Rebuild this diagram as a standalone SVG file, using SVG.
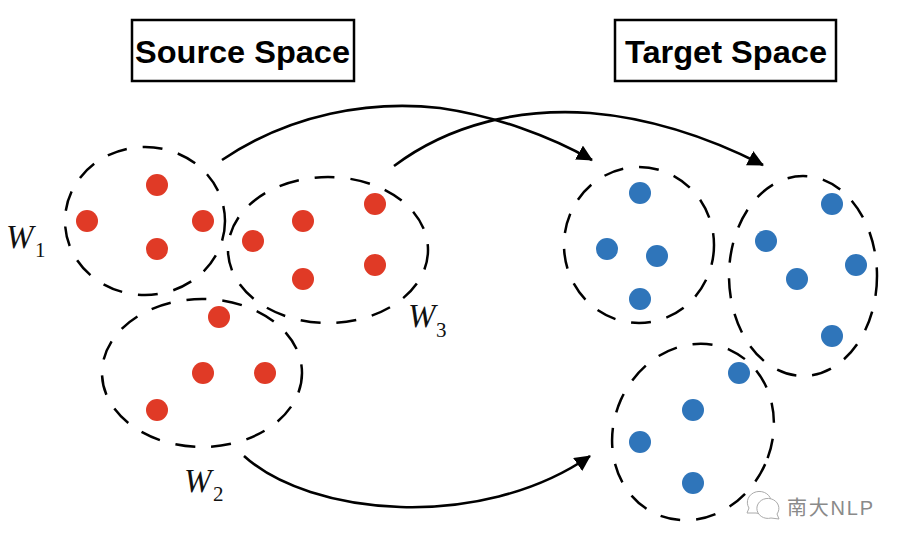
<svg xmlns="http://www.w3.org/2000/svg" width="902" height="548" viewBox="0 0 902 548">
<style>
.box{fill:#fff;stroke:#000;stroke-width:2.5}
.title{font:bold 32px "Liberation Sans",Arial,sans-serif;fill:#000}
.cl{fill:none;stroke:#000;stroke-width:2.5;stroke-dasharray:20 16}
.r{fill:#e03a26}
.b{fill:#2f75ba}
.w{font:italic 33px "Liberation Serif","Times New Roman",serif;fill:#111}
.s{font:21px "Liberation Serif","Times New Roman",serif;fill:#111}
.c{fill:none;stroke:#000;stroke-width:2.6}
.wm{font:20px "Liberation Sans","Noto Sans CJK SC",sans-serif;fill:#8a8a8a}
.ic{fill:#fff;stroke:#aaa;stroke-width:1}
</style>
<defs><marker id="a" markerUnits="userSpaceOnUse" markerWidth="20" markerHeight="20" refX="15" refY="8" orient="auto"><path d="M0 0L16 8L0 16Z" fill="#000"/></marker></defs>
<rect width="902" height="548" fill="#fff"/>
<g id="source-title"><rect class="box" x="132" y="20" width="222" height="61"/><text class="title" x="135" y="63" textLength="215" lengthAdjust="spacingAndGlyphs">Source Space</text></g>
<g id="target-title"><rect class="box" x="615" y="20" width="221" height="61"/><text class="title" x="625" y="63" textLength="202" lengthAdjust="spacingAndGlyphs">Target Space</text></g>
<g id="connectors">
<path class="c" d="M222 160C290 114 370 100 440 108C495 116 550 136 592 160" marker-end="url(#a)"/>
<path class="c" d="M394 166C450 124 520 108 590 113C650 118 710 138 763 165" marker-end="url(#a)"/>
<path class="c" d="M244 456C310 516 480 532 590 456" marker-end="url(#a)"/>
</g>
<g id="w1"><ellipse class="cl" cx="145" cy="221" rx="80" ry="74"/><circle class="r" cx="87" cy="221" r="11"/><circle class="r" cx="157" cy="185" r="11"/><circle class="r" cx="203" cy="221" r="11"/><circle class="r" cx="157" cy="249" r="11"/><text class="w" x="6" y="248">W</text><text class="s" x="35" y="257">1</text></g>
<g id="w3"><ellipse class="cl" cx="328" cy="250" rx="100" ry="73"/><circle class="r" cx="253" cy="241" r="11"/><circle class="r" cx="303" cy="221" r="11"/><circle class="r" cx="375" cy="204" r="11"/><circle class="r" cx="303" cy="279" r="11"/><circle class="r" cx="375" cy="265" r="11"/><text class="w" x="408" y="327">W</text><text class="s" x="436" y="337">3</text></g>
<g id="w2"><ellipse class="cl" cx="202" cy="373" rx="100" ry="74"/><circle class="r" cx="219" cy="317" r="11"/><circle class="r" cx="203" cy="373" r="11"/><circle class="r" cx="265" cy="373" r="11"/><circle class="r" cx="157" cy="410" r="11"/><text class="w" x="184" y="492">W</text><text class="s" x="213" y="501">2</text></g>
<g id="t1"><ellipse class="cl" cx="639" cy="245" rx="75" ry="78"/><circle class="b" cx="640" cy="193" r="11"/><circle class="b" cx="607" cy="249" r="11"/><circle class="b" cx="657" cy="256" r="11"/><circle class="b" cx="640" cy="299" r="11"/></g>
<g id="t2"><ellipse class="cl" cx="803" cy="276" rx="74" ry="100"/><circle class="b" cx="832" cy="204" r="11"/><circle class="b" cx="766" cy="241" r="11"/><circle class="b" cx="856" cy="265" r="11"/><circle class="b" cx="797" cy="279" r="11"/><circle class="b" cx="832" cy="336" r="11"/></g>
<g id="t3"><ellipse class="cl" cx="693" cy="432" rx="79" ry="90" transform="rotate(24 693 432)"/><circle class="b" cx="739" cy="373" r="11"/><circle class="b" cx="693" cy="410" r="11"/><circle class="b" cx="640" cy="442" r="11"/><circle class="b" cx="693" cy="483" r="11"/></g>
<g id="watermark"><path class="ic" d="M747 513L749 508A12 11 0 1 1 756 513Z"/><path class="ic" d="M779 519L777 514A11 10 0 1 0 771 518Z"/><text class="wm" x="787" y="515" textLength="86">南大NLP</text></g>
</svg>
